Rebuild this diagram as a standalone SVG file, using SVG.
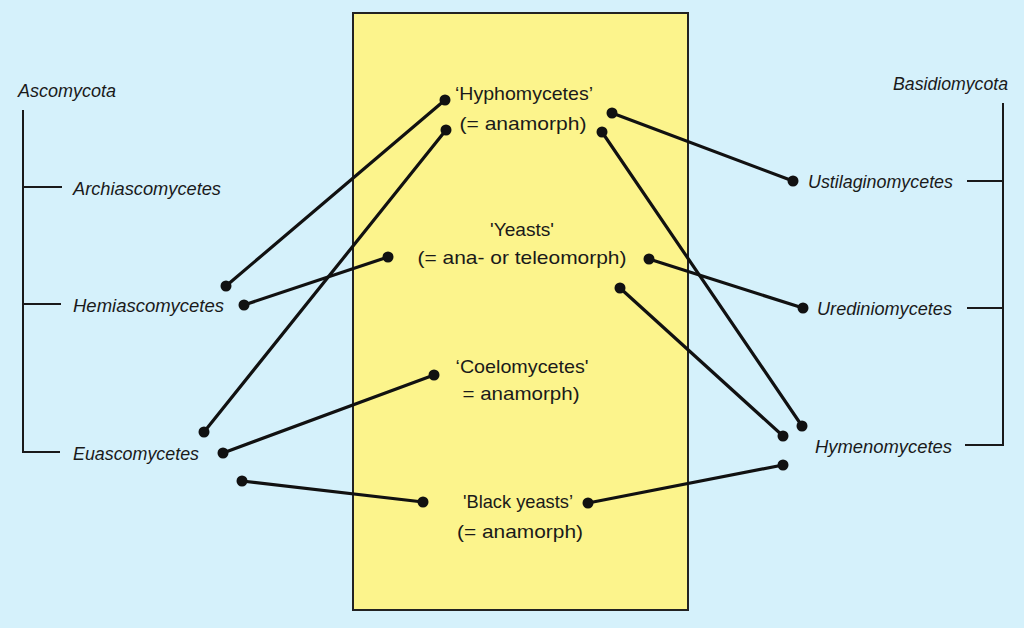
<svg xmlns="http://www.w3.org/2000/svg" width="1024" height="628" viewBox="0 0 1024 628">
<defs>
<style>
.bg{fill:#d5f1fb}
.box{fill:#fcf48c;stroke:#222;stroke-width:2}
.tree{fill:none;stroke:#1a1a1a;stroke-width:2}
.con line{stroke:#111;stroke-width:3.2;stroke-linecap:round}
.con circle{fill:#111}
.it{font-family:"Liberation Sans",Arial,sans-serif;font-style:italic;font-size:18px;fill:#1a1a1a}
.up{font-family:"Liberation Sans",Arial,sans-serif;font-size:19px;fill:#1a1a1a;text-anchor:middle}
</style>
</defs>
<rect class="bg" x="0" y="0" width="1024" height="628"/>
<g id="anamorph-box"><rect class="box" x="353" y="13" width="335" height="597"/></g>

<g id="ascomycota">
<path class="tree" d="M23,110 V452 H60 M23,187 H62 M23,304 H61"/>
<text class="it" x="18" y="97" textLength="98" lengthAdjust="spacingAndGlyphs">Ascomycota</text>
</g>
<g id="archiascomycetes"><text class="it" x="73" y="195" textLength="148" lengthAdjust="spacingAndGlyphs">Archiascomycetes</text></g>
<g id="hemiascomycetes"><text class="it" x="73" y="312" textLength="151" lengthAdjust="spacingAndGlyphs">Hemiascomycetes</text></g>
<g id="euascomycetes"><text class="it" x="73" y="460" textLength="126" lengthAdjust="spacingAndGlyphs">Euascomycetes</text></g>

<g id="basidiomycota">
<path class="tree" d="M1003,103 V445 H965 M1003,181 H967 M1003,308 H967"/>
<text class="it" x="1008" y="90" text-anchor="end" textLength="115" lengthAdjust="spacingAndGlyphs">Basidiomycota</text>
</g>
<g id="ustilaginomycetes"><text class="it" x="808" y="188" textLength="145" lengthAdjust="spacingAndGlyphs">Ustilaginomycetes</text></g>
<g id="urediniomycetes"><text class="it" x="817" y="315" textLength="135" lengthAdjust="spacingAndGlyphs">Urediniomycetes</text></g>
<g id="hymenomycetes"><text class="it" x="815" y="453" textLength="137" lengthAdjust="spacingAndGlyphs">Hymenomycetes</text></g>

<g id="hyphomycetes">
<text class="up" x="524" y="100" textLength="138" lengthAdjust="spacingAndGlyphs">‘Hyphomycetes’</text>
<text class="up" x="523" y="130" textLength="127" lengthAdjust="spacingAndGlyphs">(= anamorph)</text>
</g>
<g id="yeasts">
<text class="up" x="522" y="236" textLength="64" lengthAdjust="spacingAndGlyphs">'Yeasts'</text>
<text class="up" x="522" y="264" textLength="209" lengthAdjust="spacingAndGlyphs">(= ana- or teleomorph)</text>
</g>
<g id="coelomycetes">
<text class="up" x="522" y="373" textLength="133" lengthAdjust="spacingAndGlyphs">‘Coelomycetes'</text>
<text class="up" x="521" y="400" textLength="117" lengthAdjust="spacingAndGlyphs">= anamorph)</text>
</g>
<g id="black-yeasts">
<text class="up" x="518" y="508" textLength="110" lengthAdjust="spacingAndGlyphs">'Black yeasts’</text>
<text class="up" x="520" y="538" textLength="126" lengthAdjust="spacingAndGlyphs">(= anamorph)</text>
</g>

<g id="connectors" class="con">
<line x1="226" y1="286" x2="445" y2="100"/>
<line x1="244" y1="305" x2="388" y2="257"/>
<line x1="204" y1="432" x2="446" y2="130"/>
<line x1="223" y1="453" x2="434" y2="375"/>
<line x1="242" y1="481" x2="423" y2="502"/>
<line x1="612" y1="113" x2="793" y2="181"/>
<line x1="602" y1="132" x2="802" y2="426"/>
<line x1="649" y1="259" x2="803" y2="308"/>
<line x1="620" y1="288" x2="783" y2="436"/>
<line x1="588" y1="503" x2="783" y2="465"/>
<circle cx="226" cy="286" r="5.5"/><circle cx="445" cy="100" r="5.5"/>
<circle cx="244" cy="305" r="5.5"/><circle cx="388" cy="257" r="5.5"/>
<circle cx="204" cy="432" r="5.5"/><circle cx="446" cy="130" r="5.5"/>
<circle cx="223" cy="453" r="5.5"/><circle cx="434" cy="375" r="5.5"/>
<circle cx="242" cy="481" r="5.5"/><circle cx="423" cy="502" r="5.5"/>
<circle cx="612" cy="113" r="5.5"/><circle cx="793" cy="181" r="5.5"/>
<circle cx="602" cy="132" r="5.5"/><circle cx="802" cy="426" r="5.5"/>
<circle cx="649" cy="259" r="5.5"/><circle cx="803" cy="308" r="5.5"/>
<circle cx="620" cy="288" r="5.5"/><circle cx="783" cy="436" r="5.5"/>
<circle cx="588" cy="503" r="5.5"/><circle cx="783" cy="465" r="5.5"/>
</g>
</svg>
